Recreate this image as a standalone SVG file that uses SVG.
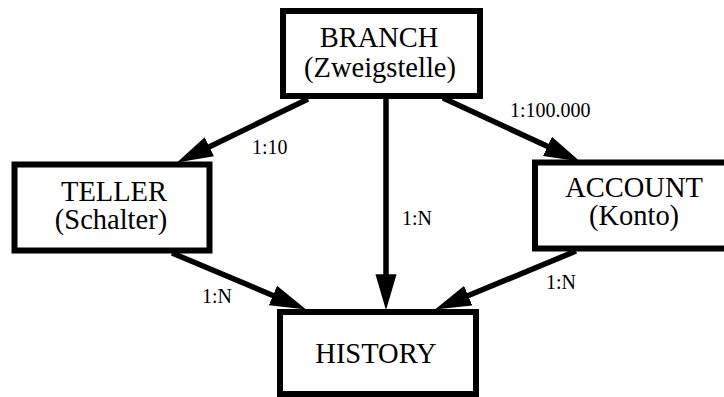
<svg xmlns="http://www.w3.org/2000/svg" width="724" height="397" viewBox="0 0 724 397">
<defs>
<style>
.box{fill:#fff;stroke:#000;stroke-width:6}
.t{font-family:"Liberation Serif","Times New Roman",serif;font-size:28.5px;fill:#000;text-anchor:middle}
.l{font-family:"Liberation Serif","Times New Roman",serif;font-size:20px;fill:#000}
.c{stroke:#000;stroke-width:5.5;fill:none;marker-end:url(#ah)}
</style>
<marker id="ah" markerUnits="userSpaceOnUse" markerWidth="36" markerHeight="22" refX="14" refY="10" orient="auto" viewBox="0 0 34 20">
<path d="M0,0 L34,10 L0,20 z" fill="#000"/>
</marker>
</defs>
<rect width="724" height="397" fill="#fff"/>
<g id="connectors">
<line class="c" x1="308" y1="99" x2="196" y2="153.3"/>
<line class="c" x1="386" y1="98" x2="386" y2="289"/>
<line class="c" x1="443" y1="98" x2="560.9" y2="152.6"/>
<line class="c" x1="172" y1="253" x2="286.6" y2="301.2"/>
<line class="c" x1="576" y1="251" x2="454.5" y2="301.3"/>
<text class="l" transform="translate(510,117) scale(1,1.08)">1:100.000</text>
<text class="l" transform="translate(252,154) scale(1,1.08)">1:10</text>
<text class="l" transform="translate(402,225) scale(1,1.08)">1:N</text>
<text class="l" transform="translate(202,303) scale(1,1.08)">1:N</text>
<text class="l" transform="translate(546,289) scale(1,1.08)">1:N</text>
</g>
<g id="branch">
<rect class="box" x="283" y="11" width="197" height="85"/>
<text class="t" transform="translate(379,47) scale(1,1.06)">BRANCH</text>
<text class="t" transform="translate(380,77) scale(1,1.06)">(Zweigstelle)</text>
</g>
<g id="teller">
<rect class="box" x="14.5" y="164.5" width="195" height="86"/>
<text class="t" transform="translate(114,201) scale(1,1.06)">TELLER</text>
<text class="t" transform="translate(111,229) scale(1,1.06)">(Schalter)</text>
</g>
<g id="account">
<rect class="box" x="535" y="162.5" width="200" height="86"/>
<text class="t" transform="translate(634,197) scale(1,1.06)">ACCOUNT</text>
<text class="t" transform="translate(634,225) scale(1,1.06)">(Konto)</text>
</g>
<g id="history">
<rect class="box" x="280" y="312" width="196" height="82"/>
<text class="t" transform="translate(376,363) scale(1,1.06)">HISTORY</text>
</g>
</svg>
